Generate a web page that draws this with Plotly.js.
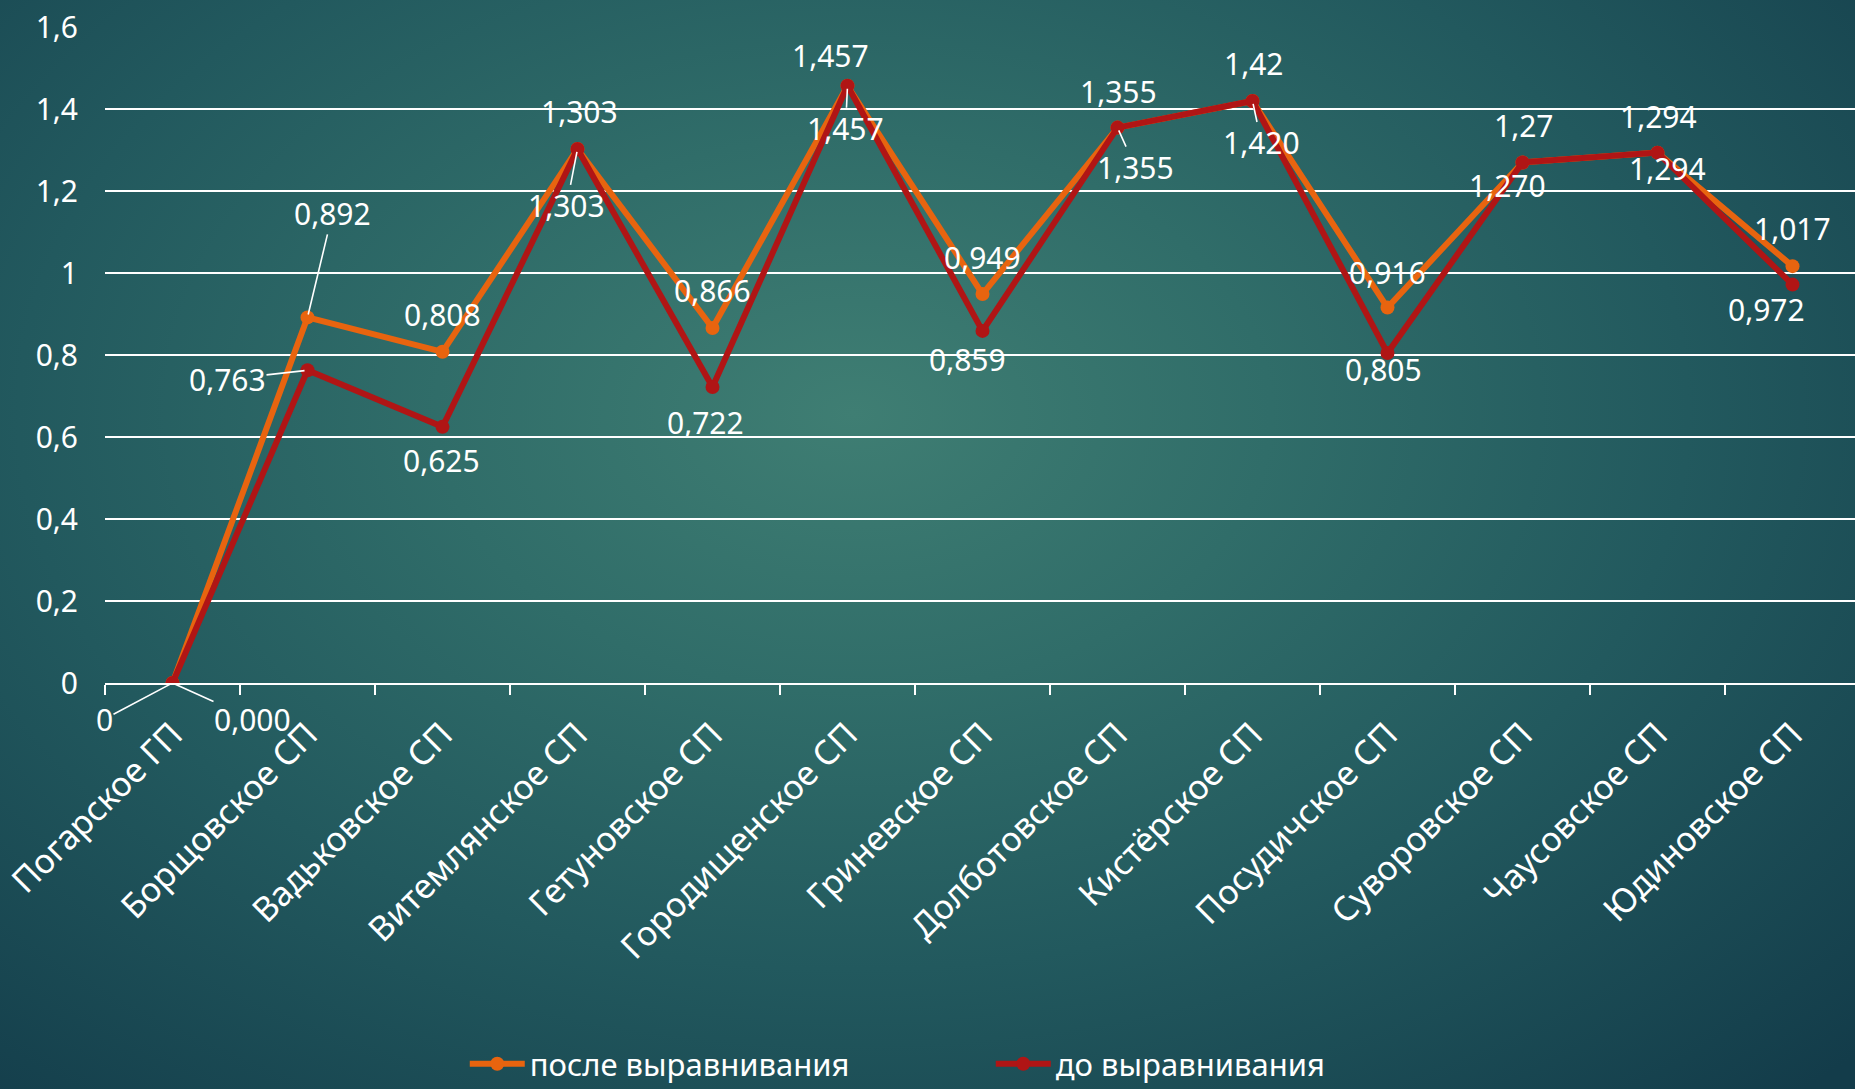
<!DOCTYPE html>
<html>
<head>
<meta charset="utf-8">
<script src="https://cdn.plot.ly/plotly-3.0.1.min.js"></script>
<style>
  html, body { margin: 0; padding: 0; width: 1855px; height: 1089px; overflow: hidden; }
  body {
    background: radial-gradient(ellipse 75% 85% at 46% 38%, #3f7e73 0%, #306d69 30%, #22595e 60%, #133c4a 100%);
  }
  #chart { width: 1860px; height: 1089px; }
</style>
</head>
<body>
<div id="chart"></div>
<script>
// ---- data ----
const categories = ['Погарское ГП', 'Борщовское СП', 'Вадьковское СП', 'Витемлянское СП', 'Гетуновское СП',
  'Городищенское СП', 'Гриневское СП', 'Долботовское СП', 'Кистёрское СП', 'Посудичское СП',
  'Суворовское СП', 'Чаусовское СП', 'Юдиновское СП'];
const afterName = 'после выравнивания';
const beforeName = 'до выравнивания';
const afterValues = [0, 0.892, 0.808, 1.303, 0.866, 1.457, 0.949, 1.355, 1.42, 0.916, 1.27, 1.294, 1.017];
const beforeValues = [0, 0.763, 0.625, 1.303, 0.722, 1.457, 0.859, 1.355, 1.42, 0.805, 1.27, 1.294, 0.972];
const afterLabels = ['0', '0,892', '0,808', '1,303', '0,866', '1,457', '0,949', '1,355', '1,42', '0,916', '1,27', '1,294', '1,017'];
const beforeLabels = ['0,000', '0,763', '0,625', '1,303', '0,722', '1,457', '0,859', '1,355', '1,420', '0,805', '1,270', '1,294', '0,972'];
const yTickVals = [0, 0.2, 0.4, 0.6, 0.8, 1, 1.2, 1.4, 1.6];
const yTickText = ['0', '0,2', '0,4', '0,6', '0,8', '1', '1,2', '1,4', '1,6'];

// ---- label placement (pixel offsets of label centre from its point; leader line flag) ----
const afterOffsets = [[-68, 36, 1], [25, -104, 1], [0, -37, 0], [2, -37, 0], [0, -38, 0], [-17, -30, 0], [0, -37, 0],
  [1, -36, 0], [1, -37, 0], [0, -35, 0], [1, -37, 0], [1, -36, 0], [0, -38, 0]];
const beforeOffsets = [[80, 36, 1], [-80, 9, 1], [-1, 34, 0], [-11, 57, 1], [-7, 35, 0], [-2, 43, 1], [-15, 29, 0],
  [18, 40, 1], [9, 42, 1], [-4, 16, 0], [-15, 23, 0], [10, 16, 0], [-26, 25, 0]];

const FONT = 'Noto Sans, DejaVu Sans, sans-serif';
const ORANGE = '#E8640F';
const RED = '#B01515';

const traces = [
  {
    type: 'scatter', mode: 'lines+markers', name: afterName,
    x: categories, y: afterValues,
    line: { color: ORANGE, width: 6 },
    marker: { color: ORANGE, size: 14 },
    hoverinfo: 'skip'
  },
  {
    type: 'scatter', mode: 'lines+markers', name: beforeName,
    x: categories, y: beforeValues,
    line: { color: RED, width: 6 },
    marker: { color: RED, size: 14 },
    hoverinfo: 'skip'
  }
];

function makeAnn(cat, val, text, off) {
  const base = {
    x: cat, y: val, xref: 'x', yref: 'y', text: text,
    font: { family: FONT, size: 30, color: '#ffffff' }
  };
  if (off[2]) {
    return Object.assign(base, {
      showarrow: true, arrowhead: 0, arrowwidth: 1.6, arrowcolor: '#ffffff',
      ax: off[0], ay: off[1], standoff: 3, borderpad: 0
    });
  }
  return Object.assign(base, { showarrow: false, xshift: off[0], yshift: -off[1] });
}

const annotations = [];
categories.forEach((c, i) => {
  annotations.push(makeAnn(c, afterValues[i], afterLabels[i], afterOffsets[i]));
  annotations.push(makeAnn(c, beforeValues[i], beforeLabels[i], beforeOffsets[i]));
});

const layout = {
  width: 1860, height: 1089,
  margin: { l: 105, r: 0, t: 27, b: 406, autoexpand: false },
  paper_bgcolor: 'rgba(0,0,0,0)',
  plot_bgcolor: 'rgba(0,0,0,0)',
  font: { family: FONT, size: 30, color: '#ffffff' },
  showlegend: true,
  legend: {
    orientation: 'h', x: 0.205, xanchor: 'left', y: -0.581, yanchor: 'middle',
    font: { family: FONT, size: 31, color: '#ffffff' },
    itemwidth: 55, entrywidth: 456, entrywidthmode: 'pixels',
    bgcolor: 'rgba(0,0,0,0)', traceorder: 'normal', tracegroupgap: 0
  },
  xaxis: {
    type: 'category', range: [-0.5, 12.5], fixedrange: true, automargin: false,
    tickson: 'boundaries', ticks: 'outside', ticklen: 10, tickwidth: 2, tickcolor: '#ffffff',
    showline: true, linecolor: '#ffffff', linewidth: 2, showgrid: false, zeroline: false,
    tickangle: -45, ticklabelstandoff: 16,
    tickfont: { family: FONT, size: 34, color: '#ffffff' }
  },
  yaxis: {
    range: [0, 1.6005], fixedrange: true, automargin: false,
    tickmode: 'array', tickvals: yTickVals, ticktext: yTickText,
    ticks: '', showline: false, zeroline: false,
    showgrid: true, gridcolor: '#ffffff', gridwidth: 2,
    ticklabelstandoff: 26,
    tickfont: { family: FONT, size: 30, color: '#ffffff' }
  },
  annotations: annotations
};

Plotly.newPlot('chart', traces, layout, { displayModeBar: false, staticPlot: true });
</script>
</body>
</html>
